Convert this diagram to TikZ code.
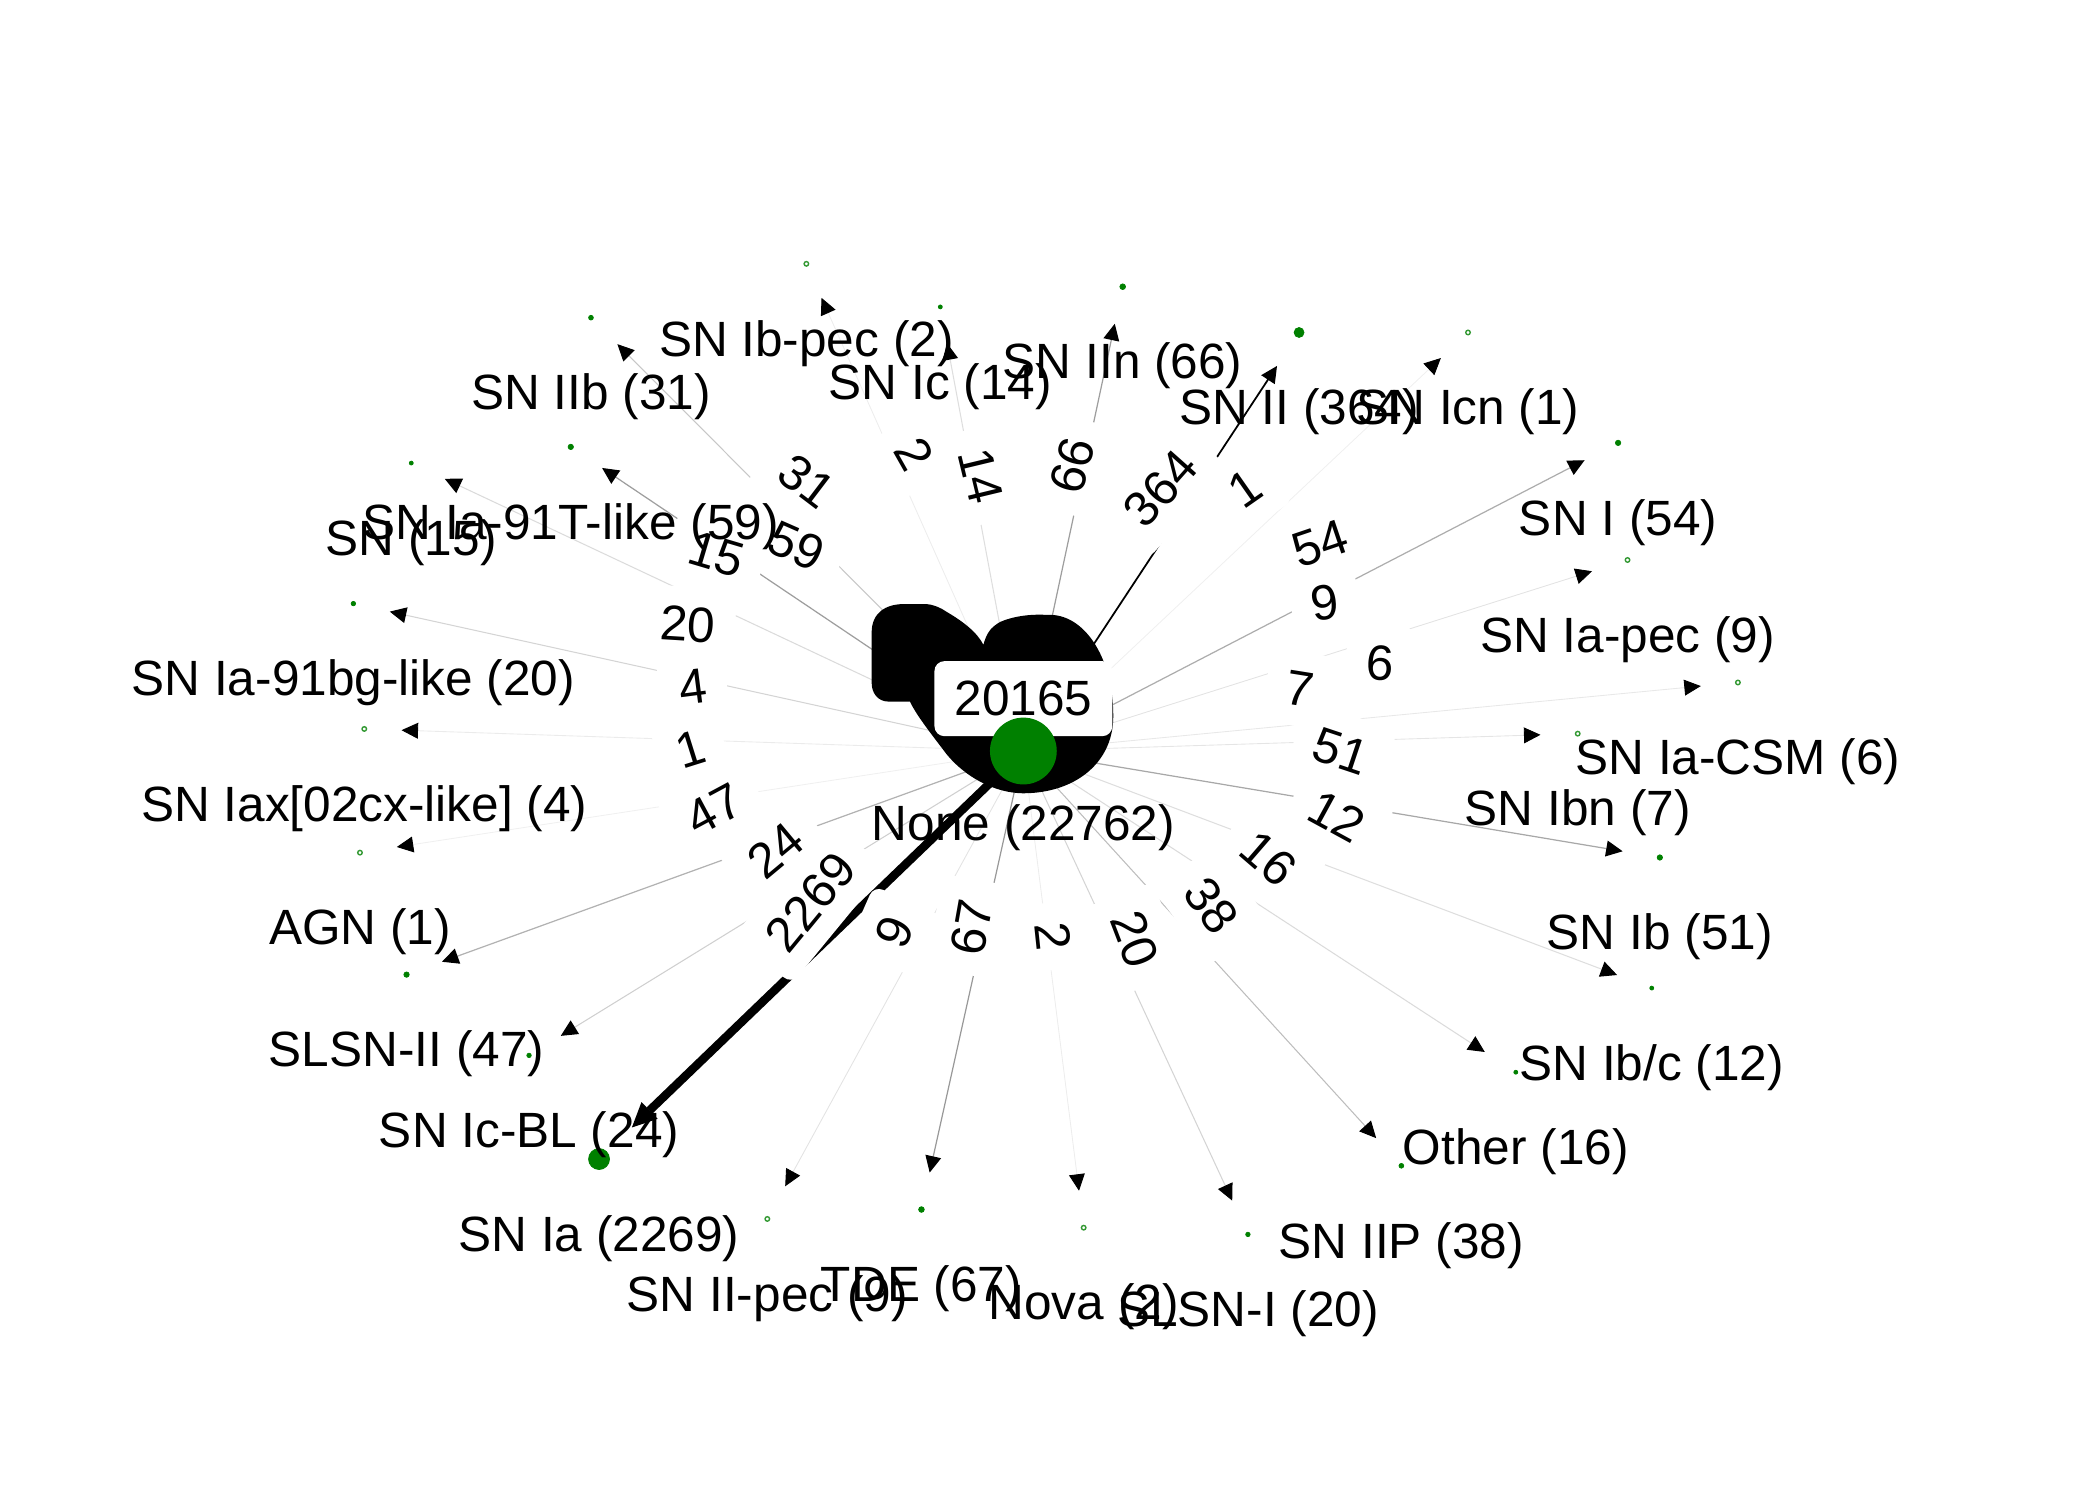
\documentclass[tikz,border=0pt]{standalone}
\usepackage{fontspec}
\setmainfont{Liberation Sans}
\usetikzlibrary{calc, arrows.meta, positioning}
\definecolor{mplgreen}{RGB}{0,128,0}

\begin{document}
\begin{tikzpicture}[
						x=0.13462mm, y=-0.13462mm,
						gdot/.style = {circle, fill=mplgreen, draw=mplgreen, line width=0.2pt, inner sep=0pt, outer sep=0pt, minimum size=#1},
						ring/.style = {circle, fill=white, draw=mplgreen!80, line width=0.4pt, inner sep=0pt, outer sep=0pt, minimum size=0.45mm},
						lbl/.style = {font=\fontsize{14.1}{16}\selectfont, inner sep=0pt},
						lbox/.style = {font=\fontsize{14.1}{16}\selectfont, fill=white, rounded corners=1mm, inner sep=2mm},
						elab/.style = {lbox, midway, sloped},
						flow/.style 2 args = {draw=black!#1, line width=#2, shorten >=3.5mm, -{Triangle[length=4.7pt, width=4.5pt, color=black]}}
					]

					\useasboundingbox (0,0) rectangle (1560,1114.3);

					\coordinate (lc) at (759,479);
					\node[circle, minimum size=6.68mm, inner sep=0pt] (none) at (760.2,557.9) {};

					\node[ring] (snibpec) at (599,196) {};
					\node[gdot=0.48mm] (sniib) at (439,236) {};
					\node[gdot=0.4mm] (snic) at (698.5,228) {};
					\node[gdot=0.57mm] (sniin) at (834,213) {};
					\node[gdot=1mm] (snii) at (965,247) {};
					\node[ring] (snicn) at (1090.5,247) {};
					\node[gdot=0.54mm] (sni) at (1202,329) {};
					\node[ring] (sniapec) at (1209,416) {};
					\node[ring] (sniacsm) at (1291,507) {};
					\node[ring] (snibn) at (1172,545) {};
					\node[gdot=0.54mm] (snib) at (1233,637) {};
					\node[gdot=0.4mm] (snibc) at (1227,734) {};
					\node[gdot=0.4mm] (other) at (1126,796.5) {};
					\node[gdot=0.48mm] (sniip) at (1041,866) {};
					\node[gdot=0.45mm] (slsni) at (927,917) {};
					\node[ring] (nova) at (805,912) {};
					\node[gdot=0.57mm] (tde) at (684.5,898.5) {};
					\node[ring] (sniipec) at (570,905.5) {};
					\node[gdot=2.1mm] (snia) at (445,861) {};
					\node[gdot=0.45mm] (snicbl) at (393,784) {};
					\node[gdot=0.54mm] (slsnii) at (302,724) {};
					\node[ring] (agn) at (267.4,633.4) {};
					\node[ring] (sniax) at (270.6,541.5) {};
					\node[gdot=0.45mm] (snia91bg) at (262.5,448.4) {};
					\node[gdot=0.4mm] (sn) at (305.5,344) {};
					\node[gdot=0.54mm] (snia91t) at (424,332) {};

					\draw[flow={7}{0.25pt}] (none) -- (snibpec);
					\draw[flow={22}{0.3pt}] (none) -- (sniib);
					\draw[flow={13}{0.3pt}] (none) -- (snic);
					\draw[flow={38}{0.35pt}] (none) -- (sniin);
					\draw[flow={100}{0.5pt}] (none) -- (snii);
					\draw[flow={6}{0.25pt}] (none) -- (snicn);
					\draw[flow={32}{0.35pt}] (none) -- (sni);
					\draw[flow={11}{0.25pt}] (none) -- (sniapec);
					\draw[flow={9}{0.25pt}] (none) -- (sniacsm);
					\draw[flow={10}{0.25pt}] (none) -- (snibn);
					\draw[flow={34}{0.35pt}] (none) -- (snib);
					\draw[flow={13}{0.3pt}] (none) -- (snibc);
					\draw[flow={14}{0.3pt}] (none) -- (other);
					\draw[flow={26}{0.3pt}] (none) -- (sniip);
					\draw[flow={17}{0.3pt}] (none) -- (slsni);
					\draw[flow={7}{0.25pt}] (none) -- (nova);
					\draw[flow={40}{0.35pt}] (none) -- (tde);
					\draw[flow={11}{0.25pt}] (none) -- (sniipec);
					\draw[flow={100}{2.4pt}, -{Triangle[length=7pt, width=6.5pt, line width=0.5pt, color=black]}] (none) -- (snia);
					\draw[flow={19}{0.3pt}] (none) -- (snicbl);
					\draw[flow={30}{0.35pt}] (none) -- (slsnii);
					\draw[flow={6}{0.25pt}] (none) -- (agn);
					\draw[flow={8}{0.25pt}] (none) -- (sniax);
					\draw[flow={17}{0.3pt}] (none) -- (snia91bg);
					\draw[flow={14}{0.3pt}] (none) -- (sn);
					\draw[flow={38}{0.35pt}] (none) -- (snia91t);

					\path (lc) -- (snibpec.center) node[elab] {2};
					\path (lc) -- (sniib.center) node[elab] {31};
					\path (lc) -- (snic.center) node[elab] {14};
					\path (lc) -- (sniin.center) node[elab] {66};
					\path (lc) -- (snii.center) node[elab] {364};
					\path (lc) -- (snicn.center) node[elab] {1};
					\path (lc) -- (sni.center) node[elab] {54};
					\path (lc) -- (sniapec.center) node[elab] {9};
					\path (lc) -- (sniacsm.center) node[elab] {6};
					\path (lc) -- (snibn.center) node[elab] {7};
					\path (lc) -- (snib.center) node[elab] {51};
					\path (lc) -- (snibc.center) node[elab] {12};
					\path (lc) -- (other.center) node[elab] {16};
					\path (lc) -- (sniip.center) node[elab] {38};
					\path (lc) -- (slsni.center) node[elab] {20};
					\path (lc) -- (nova.center) node[elab] {2};
					\path (lc) -- (tde.center) node[elab] {67};
					\path (lc) -- (sniipec.center) node[elab] {9};
					\path (lc) -- (snia.center) node[elab] {2269};
					\path (lc) -- (snicbl.center) node[elab] {24};
					\path (lc) -- (slsnii.center) node[elab] {47};
					\path (lc) -- (agn.center) node[elab] {1};
					\path (lc) -- (sniax.center) node[elab] {4};
					\path (lc) -- (snia91bg.center) node[elab] {20};
					\path (lc) -- (sn.center) node[elab] {15};
					\path (lc) -- (snia91t.center) node[elab] {59};

					% self loop of None
					\fill[black] (647.5,507) -- (647.5,470) .. controls (647.5,455) and (658,448.7) .. (672,448.7)
						-- (688,448.7) .. controls (693,449) and (699,451.5) .. (703,454.4)
						.. controls (716,462) and (726,470) .. (730.5,479)
						.. controls (733,470) and (736,466) .. (743,462)
						.. controls (752,458) and (765,456) .. (777.5,456.8)
						.. controls (805,455) and (827,488) .. (827,532)
						.. controls (827,568) and (797,589.3) .. (760,589.3)
						.. controls (735,589) and (712,573) .. (700.7,557)
						.. controls (690,543) and (680,530) .. (676,521.2)
						-- (660,521.2) .. controls (652,521) and (647.5,515) .. (647.5,507) -- cycle;
					\node[lbox] (loopl) at (760.2,519) {20165};
					\fill[mplgreen] (none) circle[radius=3.34mm];

					\node[lbl, yshift=-7.7mm] (nonelab) at (none) {None (22762)};
					\node[lbl, yshift=-7.94mm] (snibpeclab) at (snibpec) {SN Ib-pec (2)};
					\node[lbl, yshift=-7.94mm] (sniiblab) at (sniib) {SN IIb (31)};
					\node[lbl, yshift=-7.94mm] (sniclab) at (snic) {SN Ic (14)};
					\node[lbl, yshift=-7.94mm] (sniinlab) at (sniin) {SN IIn (66)};
					\node[lbl, yshift=-7.94mm] (sniilab) at (snii) {SN II (364)};
					\node[lbl, yshift=-7.94mm] (snicnlab) at (snicn) {SN Icn (1)};
					\node[lbl, yshift=-7.94mm] (snilab) at (sni) {SN I (54)};
					\node[lbl, yshift=-7.94mm] (sniapeclab) at (sniapec) {SN Ia-pec (9)};
					\node[lbl, yshift=-7.94mm] (sniacsmlab) at (sniacsm) {SN Ia-CSM (6)};
					\node[lbl, yshift=-7.94mm] (snibnlab) at (snibn) {SN Ibn (7)};
					\node[lbl, yshift=-7.94mm] (sniblab) at (snib) {SN Ib (51)};
					\node[lbl, yshift=-7.94mm] (snibclab) at (snibc) {SN Ib/c (12)};
					\node[lbl, yshift=-7.94mm] (otherlab) at (other) {Other (16)};
					\node[lbl, yshift=-7.94mm] (sniiplab) at (sniip) {SN IIP (38)};
					\node[lbl, yshift=-7.94mm] (slsnilab) at (slsni) {SLSN-I (20)};
					\node[lbl, yshift=-7.94mm] (novalab) at (nova) {Nova (2)};
					\node[lbl, yshift=-7.94mm] (tdelab) at (tde) {TDE (67)};
					\node[lbl, yshift=-7.94mm] (sniipeclab) at (sniipec) {SN II-pec (9)};
					\node[lbl, yshift=-7.94mm] (snialab) at (snia) {SN Ia (2269)};
					\node[lbl, yshift=-7.94mm] (snicbllab) at (snicbl) {SN Ic-BL (24)};
					\node[lbl, yshift=-7.94mm] (slsniilab) at (slsnii) {SLSN-II (47)};
					\node[lbl, yshift=-7.94mm] (agnlab) at (agn) {AGN (1)};
					\node[lbl, yshift=-7.94mm] (sniaxlab) at (sniax) {SN Iax[02cx-like] (4)};
					\node[lbl, yshift=-7.94mm] (snia91bglab) at (snia91bg) {SN Ia-91bg-like (20)};
					\node[lbl, yshift=-7.94mm] (snlab) at (sn) {SN (15)};
					\node[lbl, yshift=-7.94mm] (snia91tlab) at (snia91t) {SN Ia-91T-like (59)};
				\end{tikzpicture}
\end{document}
